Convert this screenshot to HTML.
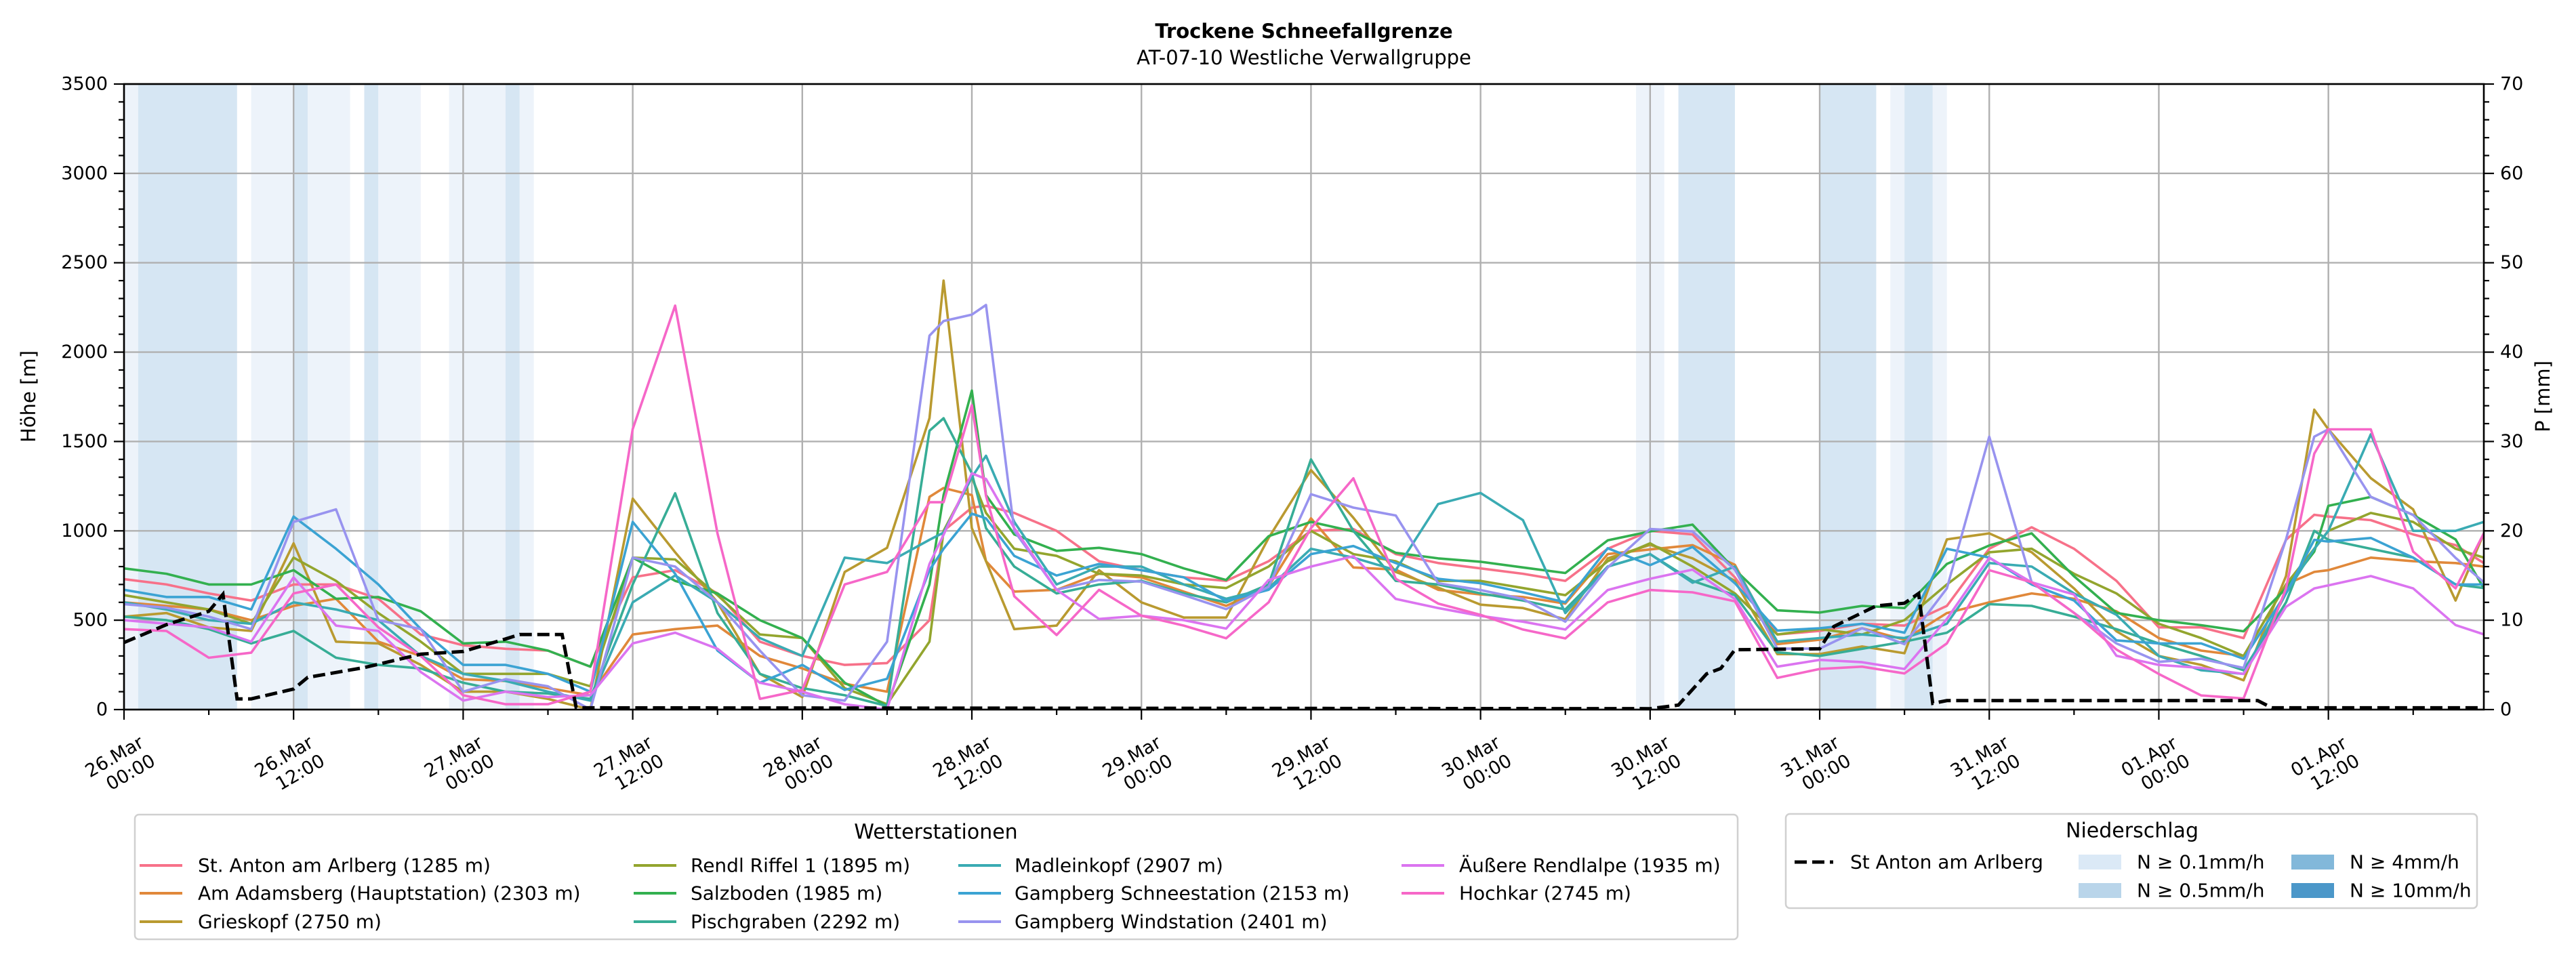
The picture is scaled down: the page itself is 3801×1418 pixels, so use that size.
<!DOCTYPE html>
<html><head><meta charset="utf-8"><title>Trockene Schneefallgrenze</title>
<style>html,body{margin:0;padding:0;background:#fff}svg{display:block;font-family:"DejaVu Sans","Liberation Sans",sans-serif}</style>
</head><body>
<svg id="chart" xmlns="http://www.w3.org/2000/svg" width="3801" height="1418" viewBox="0 0 3801 1418">
<rect width="3801" height="1418" fill="#fff"/>
<defs><clipPath id="plotclip"><rect x="183" y="124" width="3482" height="923"/></clipPath></defs>
<g id="bands" clip-path="url(#plotclip)"></g>
<g id="grid"></g>
<g id="series" clip-path="url(#plotclip)"></g>
<g id="axes"></g>
<g id="legend"></g>
<text x="1924" y="56" font-size="29" font-weight="bold" text-anchor="middle">Trockene Schneefallgrenze</text>
<text x="1924" y="95" font-size="29" text-anchor="middle">AT-07-10 Westliche Verwallgruppe</text>
<text transform="translate(52,585) rotate(-90)" font-size="29" text-anchor="middle">Höhe [m]</text>
<text transform="translate(3762,585) rotate(-90)" font-size="29" text-anchor="middle">P [mm]</text>
</svg>
<script>
const HOURS = [0,3,6,9,12,15,18,21,24,27,30,33,36,39,42,45,48,51,54,57,58,60,61,63,66,69,72,75,78,81,84,87,90,93,96,99,102,105,108,111,114,117,120,123,126,129,132,135,138,141,144,147,150,153,155,156,159,162,165,167];
const STATION_NAMES = ["St. Anton am Arlberg (1285 m)","Am Adamsberg (Hauptstation) (2303 m)","Grieskopf (2750 m)","Rendl Riffel 1 (1895 m)","Salzboden (1985 m)","Pischgraben (2292 m)","Madleinkopf (2907 m)","Gampberg Schneestation (2153 m)","Gampberg Windstation (2401 m)","Äußere Rendlalpe (1935 m)","Hochkar (2745 m)"];
const S_STANTON = [730,700,650,610,700,700,620,420,360,340,330,240,740,780,650,380,300,250,260,500,1000,1130,1140,1100,1000,830,780,740,720,830,1000,1010,870,820,790,760,720,900,1000,980,740,420,440,480,470,580,900,1020,900,720,460,460,400,950,1090,1080,1060,980,920,820];
const S_ADAMSBERG = [600,580,560,500,580,620,380,300,170,160,120,80,420,450,470,300,230,145,100,1190,1240,1200,830,660,670,760,740,660,580,690,1070,795,783,670,644,630,593,870,896,920,810,366,391,455,391,540,600,650,620,550,400,330,300,700,770,780,850,830,820,800];
const S_GRIESKOPF = [520,540,460,440,930,380,370,250,100,100,60,0,1180,880,600,200,70,770,905,1630,2400,1015,830,450,470,780,600,515,515,960,1340,1073,770,682,587,568,505,846,922,846,720,310,310,353,315,952,986,880,678,438,300,250,164,747,1678,1568,1295,1120,610,986];
const S_RENDL = [640,600,560,480,850,720,540,380,200,200,200,130,850,840,640,420,400,120,30,380,1000,1300,1100,900,860,760,750,700,680,800,1000,870,830,720,720,680,640,830,930,800,650,420,450,420,500,700,880,900,760,650,480,400,300,700,900,1000,1100,1050,900,850];
const S_SALZBODEN = [790,760,700,700,780,620,630,550,370,380,330,240,850,720,650,500,400,150,20,700,1200,1785,1200,980,888,905,870,790,725,970,1050,997,877,846,827,795,764,947,997,1035,783,555,543,580,568,815,918,986,746,541,500,472,438,678,884,1140,1190,1089,952,678];
const S_PISCHGRABEN = [520,500,450,370,440,290,250,230,150,100,90,60,700,1210,540,200,120,80,20,1560,1630,1322,1015,800,650,700,720,650,600,700,1400,1000,720,700,650,610,560,800,870,720,640,320,300,340,380,430,590,580,520,450,370,300,220,600,1000,950,900,850,700,680];
const S_MADLEIN = [600,560,500,480,600,560,500,300,200,160,100,50,600,750,600,400,300,850,820,950,990,1300,1420,1050,700,800,800,700,620,680,900,850,780,1150,1212,1060,540,800,870,710,800,380,400,420,400,480,820,800,650,530,300,220,200,650,900,1000,1540,1000,1000,1050];
const S_SCHNEE = [670,630,630,560,1080,900,700,450,250,250,200,100,1050,760,330,150,250,110,172,780,900,1096,1070,860,750,815,780,740,607,670,870,915,820,732,707,656,600,903,808,910,707,442,455,480,430,900,850,700,610,387,370,370,284,650,950,940,960,850,700,700];
const S_WIND = [590,570,520,450,1050,1120,500,450,100,170,130,0,850,800,600,330,80,50,380,2092,2174,2210,2264,1000,670,725,716,640,562,688,1205,1130,1086,707,669,619,492,795,1010,997,783,341,341,455,366,678,1527,712,541,370,267,284,233,952,1527,1568,1190,1089,849,712];
const S_RENDLALPE = [500,480,460,380,740,470,440,210,50,100,70,80,370,430,340,150,100,30,0,815,978,1322,1290,1015,670,507,525,500,453,725,800,858,619,568,524,492,448,669,732,783,619,240,278,265,227,507,849,712,644,301,250,233,199,575,678,695,747,678,473,421];
const S_HOCHKAR = [450,440,290,318,650,700,460,300,80,30,30,100,1570,2260,985,60,110,700,770,1160,1160,1703,1196,634,417,670,525,470,399,600,1015,1294,732,593,530,448,398,600,669,656,606,177,227,240,202,370,780,712,541,336,199,79,62,678,1432,1568,1568,884,678,986];
const PRECIP_HOURS = [0,3,6,7,8,9,12,13,17,21,24,27,28,31,32,108,110,112,113,114,120,121,124,126,127,128,129,151,152,167];
const PRECIP_MM = [7.5,9.5,11,12.9,1.2,1.2,2.3,3.6,4.7,6.2,6.5,7.9,8.4,8.4,0.2,0.1,0.5,4,4.6,6.7,6.8,9.3,11.6,11.9,13,0.7,1,1,0.2,0.2];
const BAND_START = [0,1,9,12,13,17,18,23,27,28,107,110,120,125,126,128];
const BAND_END =   [1,8,12,13,16,18,21,27,28,29,109,114,124,126,128,129];
const BAND_LEVEL = [0,1,0,1,0,1,0,0,1,0,0,1,1,0,1,0];
const Y_TICKS = [0,500,1000,1500,2000,2500,3000,3500];
const Y2_TICKS = [0,10,20,30,40,50,60,70];
const X_TICK_DAY = ["26.Mar","26.Mar","27.Mar","27.Mar","28.Mar","28.Mar","29.Mar","29.Mar","30.Mar","30.Mar","31.Mar","31.Mar","01.Apr","01.Apr"];
const X_TICK_TIME = ["00:00","12:00","00:00","12:00","00:00","12:00","00:00","12:00","00:00","12:00","00:00","12:00","00:00","12:00"];

const SERIES = [S_STANTON,S_ADAMSBERG,S_GRIESKOPF,S_RENDL,S_SALZBODEN,S_PISCHGRABEN,S_MADLEIN,S_SCHNEE,S_WIND,S_RENDLALPE,S_HOCHKAR];
const COLORS = ["#f77189","#e0883a","#b99a30","#93a52e","#33b04f","#37ad96","#3aabb3","#3ba3d3","#9893ef","#db74f0","#f667c8"];
const SLUGS = ["st-anton","am-adamsberg","grieskopf","rendl-riffel","salzboden","pischgraben","madleinkopf","gampberg-schneestation","gampberg-windstation","aeussere-rendlalpe","hochkar"];
const BAND_COLORS = ["#edf3fa","#d6e6f3"];
const NS = "http://www.w3.org/2000/svg";
const X0 = 183, X1 = 3665, Y0 = 1047, Y1 = 124, HMAX = 167, VMAX = 3500, PMAX = 70;
function xs(h){ return X0 + h/HMAX*(X1-X0); }
function ys(v){ return Y0 - v/VMAX*(Y0-Y1); }
function yp(mm){ return Y0 - mm/PMAX*(Y0-Y1); }
function mk(tag, attrs, parent){
  const e = document.createElementNS(NS, tag);
  for (const k in attrs) e.setAttribute(k, attrs[k]);
  parent.appendChild(e); return e;
}
const gB = document.getElementById('bands'), gG = document.getElementById('grid'),
      gS = document.getElementById('series'), gA = document.getElementById('axes'),
      gL = document.getElementById('legend');

for (let i=0;i<BAND_START.length;i++){
  const r = mk('rect',{x:xs(BAND_START[i]),y:Y1,width:xs(BAND_END[i])-xs(BAND_START[i]),height:Y0-Y1,fill:BAND_COLORS[BAND_LEVEL[i]]},gB);
  
  
}
for (let i=0;i<X_TICK_DAY.length;i++){
  const l = mk('line',{x1:xs(i*12),x2:xs(i*12),y1:Y1,y2:Y0,stroke:'#b0b0b0','stroke-width':2.4},gG);
  
  
}
for (const v of Y_TICKS){
  const l = mk('line',{x1:X0,x2:X1,y1:ys(v),y2:ys(v),stroke:'#b0b0b0','stroke-width':2.4},gG);
  
  
}
for (let s=0;s<SERIES.length;s++){
  const pts = HOURS.map((h,i)=>xs(h).toFixed(1)+','+ys(SERIES[s][i]).toFixed(1)).join(' ');
  const p = mk('polyline',{points:pts,fill:'none',stroke:COLORS[s],'stroke-width':3.6,'stroke-linejoin':'round'},gS);
  
  
}
{
  const pts = PRECIP_HOURS.map((h,i)=>xs(h).toFixed(1)+','+yp(PRECIP_MM[i]).toFixed(1)).join(' ');
  const p = mk('polyline',{points:pts,fill:'none',stroke:'#000','stroke-width':5,'stroke-dasharray':'18 8'},gS);
  
  
}
{
  const r = mk('rect',{x:X0,y:Y1,width:X1-X0,height:Y0-Y1,fill:'none',stroke:'#000','stroke-width':2.6},gA);
  
  
}
for (let v=0; v<=VMAX; v+=100){
  const major = v%500===0;
  mk('line',{x1:X0,x2:X0-(major?15:8),y1:ys(v),y2:ys(v),stroke:'#000','stroke-width':2.2},gA);
}
for (const v of Y_TICKS){
  const t = mk('text',{x:X0-24,y:ys(v),'font-size':27,'text-anchor':'end','dominant-baseline':'central'},gA);
  t.textContent = v;
  
  
}
for (let v=0; v<=PMAX; v+=2){
  const major = v%10===0;
  mk('line',{x1:X1,x2:X1+(major?15:8),y1:yp(v),y2:yp(v),stroke:'#000','stroke-width':2.2},gA);
}
for (const v of Y2_TICKS){
  const t = mk('text',{x:X1+24,y:yp(v),'font-size':27,'text-anchor':'start','dominant-baseline':'central'},gA);
  t.textContent = v;
  
  
}
for (let h=0; h<HMAX; h+=6){
  const major = h%12===0;
  mk('line',{x1:xs(h),x2:xs(h),y1:Y0,y2:Y0+(major?15:8),stroke:'#000','stroke-width':2.2},gA);
}
for (let i=0;i<X_TICK_DAY.length;i++){
  const x = xs(i*12);
  const t1 = mk('text',{x:x-14,y:1117,'font-size':27,'text-anchor':'middle','dominant-baseline':'central',transform:`rotate(-30 ${x-14} 1117)`},gA);
  t1.textContent = X_TICK_DAY[i];
  
  
  const t2 = mk('text',{x:x+10,y:1140,'font-size':27,'text-anchor':'middle','dominant-baseline':'central',transform:`rotate(-30 ${x+10} 1140)`},gA);
  t2.textContent = X_TICK_TIME[i];
  
  
}
{
  const box = mk('rect',{x:199,y:1202,width:2365,height:184,rx:6,fill:'#fff',stroke:'#d0d0d0','stroke-width':2.5},gL);
  
  
  const tt = mk('text',{x:1381,y:1228,'font-size':30,'text-anchor':'middle','dominant-baseline':'central'},gL);
  tt.textContent = 'Wetterstationen';
  
  
  const colH = [206,935,1414,2068], colT = [292,1019,1497,2153], rowY = [1277,1318,1360];
  for (let s=0;s<SERIES.length;s++){
    const c = Math.floor(s/3), r = s%3;
    const g = mk('g',{},gL);
    
    
    mk('line',{x1:colH[c],x2:colH[c]+63,y1:rowY[r],y2:rowY[r],stroke:COLORS[s],'stroke-width':4},g);
    const t = mk('text',{x:colT[c],y:rowY[r],'font-size':28,'dominant-baseline':'central'},g);
    t.textContent = STATION_NAMES[s];
  }
}
{
  const box = mk('rect',{x:2635,y:1201,width:1020,height:139,rx:6,fill:'#fff',stroke:'#d0d0d0','stroke-width':2.5},gL);
  
  
  const tt = mk('text',{x:3146,y:1226,'font-size':30,'text-anchor':'middle','dominant-baseline':'central'},gL);
  tt.textContent = 'Niederschlag';
  
  
  const g0 = mk('g',{},gL);
  
  
  mk('line',{x1:2648,x2:2705,y1:1272,y2:1272,stroke:'#000','stroke-width':5,'stroke-dasharray':'18 8'},g0);
  const t0 = mk('text',{x:2730,y:1272,'font-size':28,'dominant-baseline':'central'},g0);
  t0.textContent = 'St Anton am Arlberg';
  const PL = ['N ≥ 0.1mm/h','N ≥ 0.5mm/h','N ≥ 4mm/h','N ≥ 10mm/h'];
  const PC = ['#dbe9f6','#b9d5ea','#82b8da','#4b97c9'];
  const px = [3067,3067,3381,3381], py = [1272,1314,1272,1314];
  for (let i=0;i<4;i++){
    const g = mk('g',{},gL);
    
    
    mk('rect',{x:px[i],y:py[i]-11,width:63,height:22,fill:PC[i]},g);
    const t = mk('text',{x:px[i]+86,y:py[i],'font-size':28,'dominant-baseline':'central'},g);
    t.textContent = PL[i];
  }
}
</script>
</body></html>
